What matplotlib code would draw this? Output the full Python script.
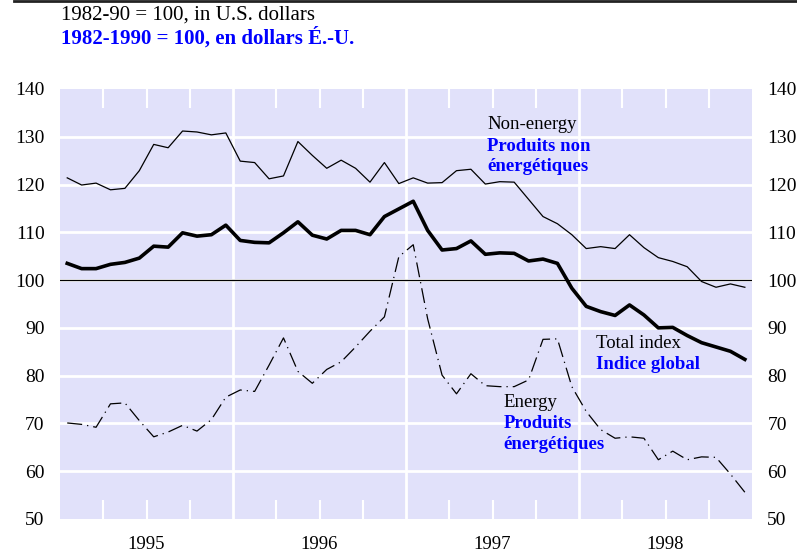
import numpy as np
import matplotlib.pyplot as plt
from matplotlib.lines import Line2D
from matplotlib.ticker import FixedLocator, NullFormatter

plt.rcParams['font.family'] = ['Liberation Serif', 'DejaVu Serif']

# =========================
# DATA (monthly, Jan 1995 - Dec 1998)
# =========================
years = [1995, 1996, 1997, 1998]

non_energy = [121.4, 119.9, 120.3, 118.9, 119.2, 122.9, 128.4, 127.7, 131.2, 131.0, 130.4, 130.8,
              124.9, 124.6, 121.2, 121.8, 129.0, 126.1, 123.4, 125.1, 123.4, 120.5, 124.6, 120.2,
              121.4, 120.3, 120.4, 122.9, 123.2, 120.1, 120.6, 120.5, 116.9, 113.3, 111.8, 109.5,
              106.6, 107.0, 106.6, 109.5, 106.8, 104.7, 103.9, 102.8, 99.7, 98.5, 99.2, 98.5]

total_index = [103.5, 102.4, 102.4, 103.3, 103.7, 104.6, 107.1, 106.9, 109.9, 109.2, 109.5, 111.5,
               108.3, 107.9, 107.8, 109.9, 112.2, 109.4, 108.6, 110.4, 110.4, 109.5, 113.3, 114.9,
               116.5, 110.4, 106.3, 106.6, 108.2, 105.4, 105.7, 105.6, 104.0, 104.4, 103.5, 98.3,
               94.5, 93.4, 92.6, 94.8, 92.7, 90.0, 90.1, 88.4, 86.9, 86.0, 85.1, 83.4]

energy = [70.1, 69.8, 69.2, 74.1, 74.3, 70.6, 67.2, 68.2, 69.6, 68.4, 70.8, 75.5,
          77.0, 76.7, 82.2, 87.9, 80.9, 78.4, 81.3, 82.9, 86.0, 89.3, 92.3, 104.9,
          107.4, 91.9, 80.1, 76.2, 80.4, 77.9, 77.7, 77.7, 79.1, 87.6, 87.7, 77.7,
          72.5, 68.7, 66.9, 67.2, 66.9, 62.4, 64.2, 62.4, 63.0, 62.9, 59.4, 55.6]

y_ticks = [50, 60, 70, 80, 90, 100, 110, 120, 130, 140]

# month centres as fractional years
months = years[0] + (np.arange(len(total_index)) + 0.5) / 12

BG = '#e1e1fa'
BLUE = '#0000ff'
FS = 13.5

# =========================
# FIGURE
# =========================
fig = plt.figure(figsize=(7.97, 5.52), dpi=100)
ax = fig.add_axes([0.0753, 0.0598, 0.8683, 0.779])
ax.set_facecolor(BG)
for s in ax.spines.values():
    s.set_visible(False)

ax.set_xlim(years[0], years[-1] + 1)
ax.set_ylim(50, 140)

# white grid
for v in y_ticks[1:-1]:
    ax.axhline(v, color='white', lw=2, zorder=1)
for yr in years[1:]:
    ax.axvline(yr, color='white', lw=2, zorder=1)
ax.axhline(100, color='black', lw=0.9, zorder=2)

# lines
ax.plot(months, non_energy, color='black', lw=0.9, zorder=3)
ax.plot(months, total_index, color='black', lw=2.6, zorder=4)
ax.plot(months, energy, color='black', lw=0.9, dashes=(12, 4, 1, 4), zorder=3)

# x ticks: labels at mid-year, white inward quarter marks
ax.xaxis.set_major_locator(FixedLocator([y + 0.5 for y in years]))
ax.set_xticklabels([str(y) for y in years])
ax.xaxis.set_minor_locator(FixedLocator([y + q for y in years for q in (0.25, 0.75)]))
ax.xaxis.set_minor_formatter(NullFormatter())
ax.tick_params(axis='x', which='both', top=True, bottom=True, direction='in',
               length=13.5, width=1.5, color='white', pad=12, labelsize=FS)

ax.set_yticks(y_ticks)
ax.tick_params(axis='y', which='both', left=True, right=True, labelleft=True, labelright=True,
               length=0, pad=11, labelsize=14)

# labels
ax.text(1997.468, 132.5, 'Non-energy', fontsize=FS, va='center')
ax.text(1997.468, 128.0, 'Produits non', fontsize=FS, va='center', color=BLUE, fontweight='bold')
ax.text(1997.468, 123.7, 'énergétiques', fontsize=FS, va='center', color=BLUE, fontweight='bold')

ax.text(1998.098, 86.8, 'Total index', fontsize=FS, va='center')
ax.text(1998.098, 82.3, 'Indice global', fontsize=FS, va='center', color=BLUE, fontweight='bold')

ax.text(1997.562, 74.3, 'Energy', fontsize=FS, va='center')
ax.text(1997.562, 69.9, 'Produits', fontsize=FS, va='center', color=BLUE, fontweight='bold')
ax.text(1997.562, 65.5, 'énergétiques', fontsize=FS, va='center', color=BLUE, fontweight='bold')

# header
fig.add_artist(Line2D([0.017, 1.0], [0.9975, 0.9975], color='#222222', lw=2))
fig.text(0.0765, 1 - 15 / 552, '1982-90 = 100, in U.S. dollars', fontsize=15, va='center')
fig.text(0.0765, 1 - 38 / 552, '1982-1990 = 100, en dollars É.-U.', fontsize=15, va='center',
         color=BLUE, fontweight='bold')

fig.savefig('out.png', dpi=100)
